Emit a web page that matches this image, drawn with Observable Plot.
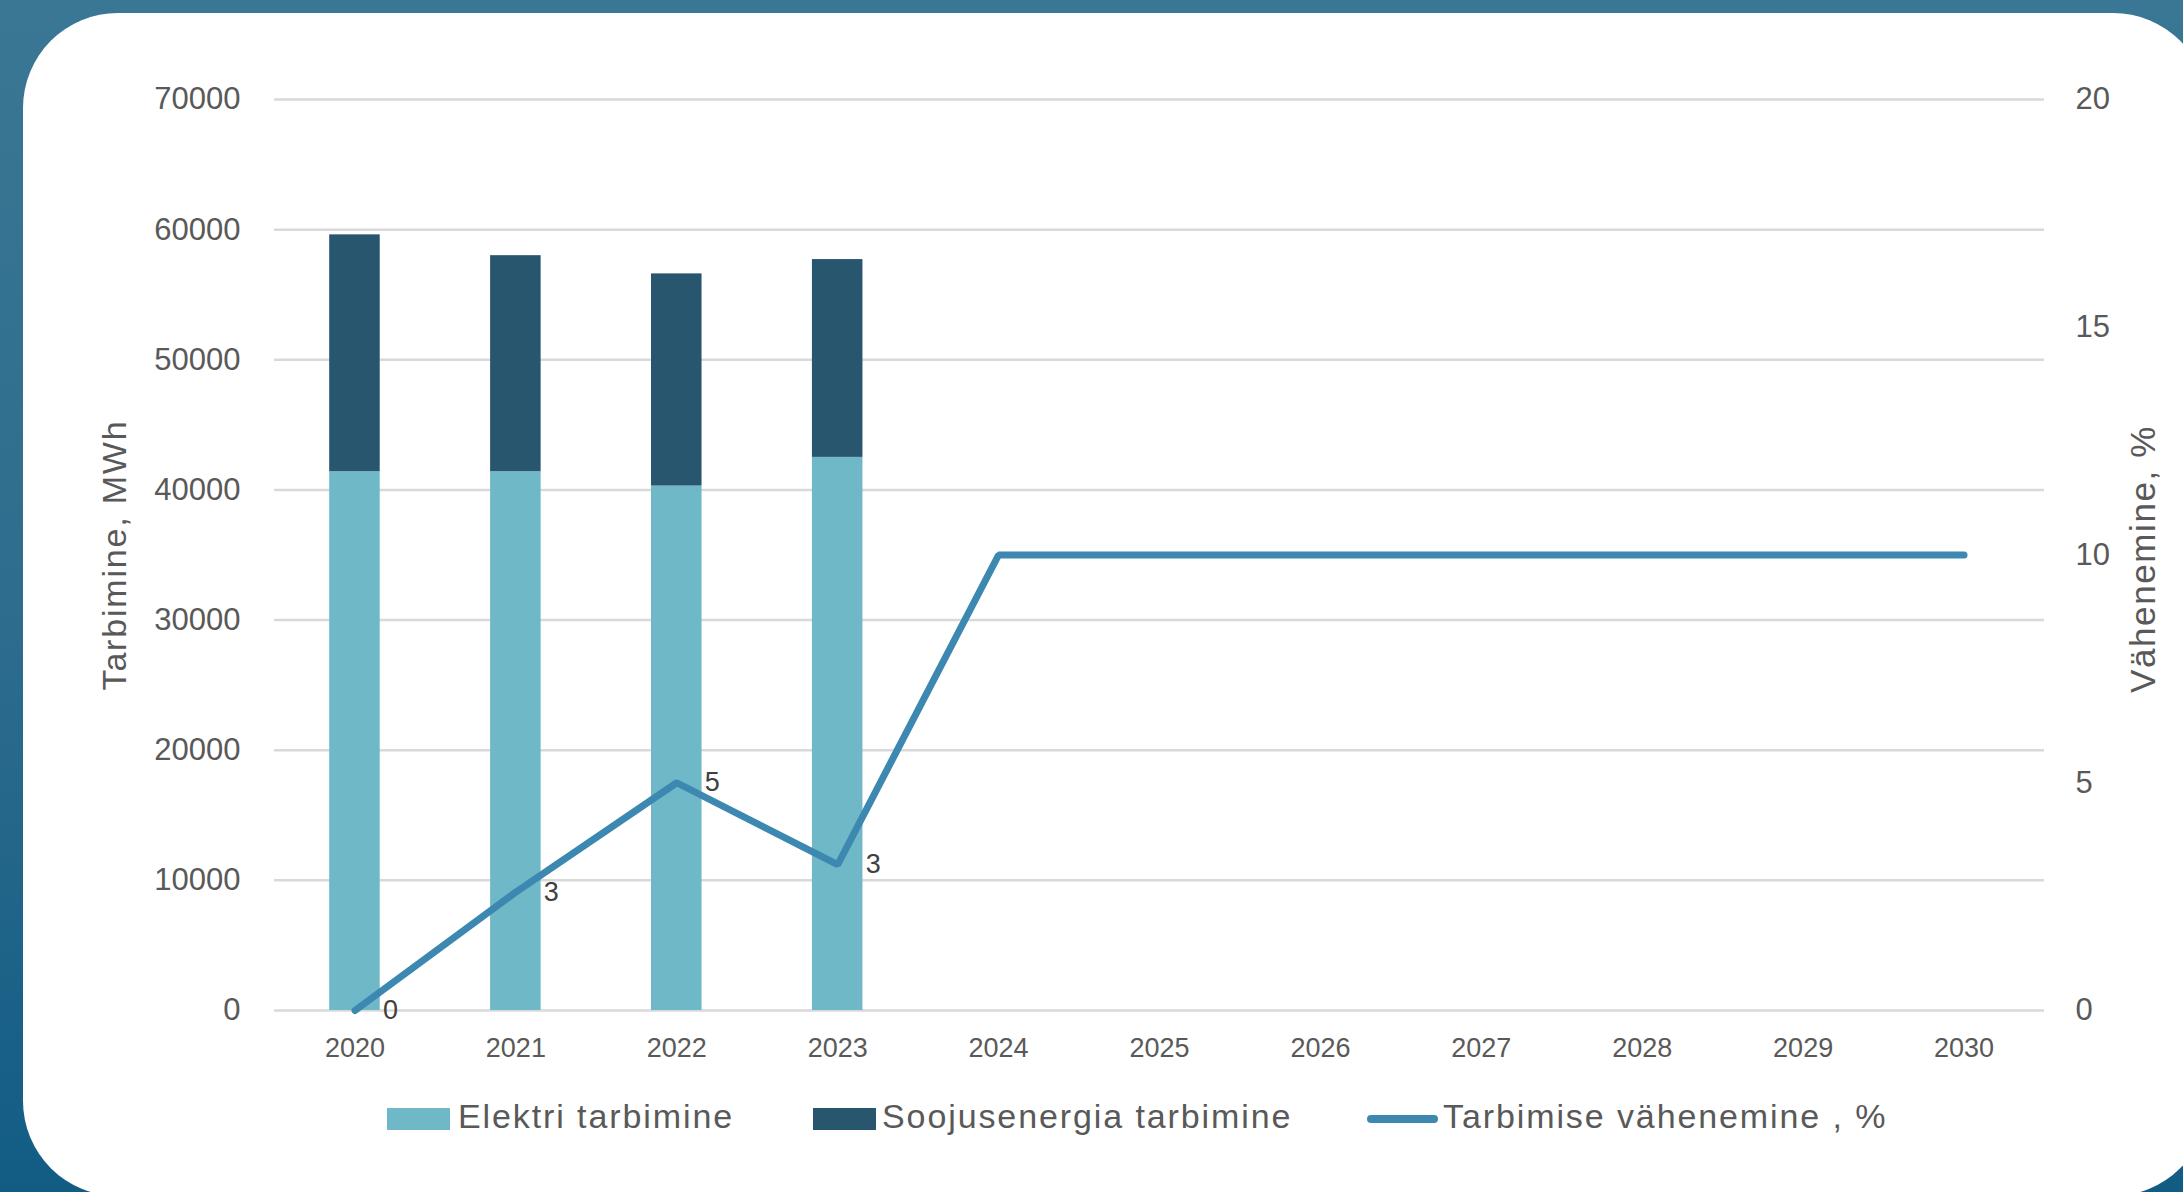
<!DOCTYPE html>
<html>
<head>
<meta charset="utf-8">
<script src="https://cdn.jsdelivr.net/npm/d3@7"></script>
<script src="https://cdn.jsdelivr.net/npm/@observablehq/plot@0.6"></script>
<style>
  html, body { margin: 0; padding: 0; }
  body {
    width: 2183px; height: 1192px; overflow: hidden; position: relative;
    background: linear-gradient(to bottom, #3a7794 0%, #2f6d8e 50%, #125c84 100%);
    font-family: "Liberation Sans", Arial, sans-serif;
  }
  #card {
    position: absolute; left: 23px; top: 13px; width: 2185px; height: 1183px;
    background: #ffffff; border-radius: 95px;
  }
  #chart { position: absolute; left: 0; top: 0; }
  #legend { position: absolute; left: 0; top: 1080px; width: 2183px; height: 100px; }
  .sw { position: absolute; }
  .lt { position: absolute; font-size: 34px; color: #595959; letter-spacing: 1.9px; line-height: 1; white-space: nowrap; }
</style>
</head>
<body>
<div id="card"></div>
<div id="chart"></div>
<div id="legend"></div>
<script>
// ---- data ----
const years = ["2020","2021","2022","2023","2024","2025","2026","2027","2028","2029","2030"];
const barYears = ["2020","2021","2022","2023"];
const elektri = [41400, 41400, 40300, 42500];
const soojus = [18200, 16600, 16300, 15200];
const reduction = [0, 2.6, 5, 3.2, 10, 10, 10, 10, 10, 10, 10];
const reductionLabels = ["0", "3", "5", "3"];
const leftTicks = [0, 10000, 20000, 30000, 40000, 50000, 60000, 70000];
const rightTicks = [0, 5, 10, 15, 20];
const seriesNames = ["Elektri tarbimine", "Soojusenergia tarbimine", "Tarbimise vähenemine , %"];
const colors = ["#6fb8c8", "#27566e", "#3d88b1"];

const leftMax = 70000, rightMax = 20;
const k = leftMax / rightMax; // right-axis units -> left-axis units

const barRows = [];
barYears.forEach((y, i) => {
  barRows.push({year: y, series: seriesNames[0], value: elektri[i]});
  barRows.push({year: y, series: seriesNames[1], value: soojus[i]});
});
const lineRows = years.map((y, i) => ({year: y, pct: reduction[i]}));
const labelRows = reductionLabels.map((t, i) => ({year: years[i], pct: reduction[i], label: t}));

const chart = Plot.plot({
  width: 2183,
  height: 1080,
  marginLeft: 274,
  marginRight: 139,
  marginTop: 99,
  marginBottom: 70,
  style: {fontFamily: "'Liberation Sans', Arial, sans-serif", color: "#595959", background: "transparent"},
  x: {type: "band", domain: years, paddingInner: 0.686, paddingOuter: 0.343, round: false},
  y: {domain: [0, leftMax]},
  color: {domain: seriesNames.slice(0, 2), range: colors.slice(0, 2)},
  marks: [
    Plot.ruleY(leftTicks, {stroke: "#d9d9d9", strokeWidth: 2.5}),
    Plot.barY(barRows, Plot.stackY({x: "year", y: "value", fill: "series", inset: 0})),
    Plot.line(lineRows, {x: "year", y: d => d.pct * k, stroke: colors[2], strokeWidth: 7,
      strokeLinecap: "round", strokeLinejoin: "miter"}),
    Plot.text(labelRows, {x: "year", y: d => d.pct * k, text: "label", textAnchor: "start",
      dx: 28, fontSize: 27, fill: "#404040", lineAnchor: "middle"}),
    Plot.axisX({tickSize: 0, tickPadding: 27, fontSize: 27, label: null, fill: "#595959"}),
    Plot.axisY({ticks: leftTicks, tickSize: 0, tickPadding: 34, fontSize: 31, label: null,
      fill: "#595959", tickFormat: d => String(d)}),
    Plot.axisY({anchor: "right", ticks: rightTicks.map(v => v * k), tickSize: 0, tickPadding: 31,
      fontSize: 31, label: null, fill: "#595959", tickFormat: d => String(Math.round(d / k))}),
    Plot.text(["Tarbimine, MWh"], {frameAnchor: "left", dx: -159, dy: 0, rotate: -90,
      fontSize: 34, fill: "#595959", textAnchor: "middle", lineAnchor: "middle"}),
    Plot.text(["Vähenemine, %"], {frameAnchor: "right", dx: 99, dy: 4, rotate: -90,
      fontSize: 35, fill: "#595959", textAnchor: "middle", lineAnchor: "middle"})
  ]
});
document.getElementById("chart").appendChild(chart);
chart.querySelectorAll("text").forEach(t => {
  if (t.textContent === "Tarbimine, MWh") t.setAttribute("letter-spacing", "1.8");
  if (t.textContent === "Vähenemine, %") t.setAttribute("letter-spacing", "1.6");
});

// ---- legend (HTML, below the SVG) ----
const legend = document.getElementById("legend");
const top0 = 1080;
function add(el) { legend.appendChild(el); return el; }
const sw1 = add(document.createElement("div"));
sw1.className = "sw";
Object.assign(sw1.style, {left: "387px", top: (1108 - top0) + "px", width: "63px", height: "22px", background: colors[0]});
const t1 = add(document.createElement("div"));
t1.className = "lt"; t1.textContent = seriesNames[0];
Object.assign(t1.style, {left: "458px", top: (1099 - top0) + "px"});
const sw2 = add(document.createElement("div"));
sw2.className = "sw";
Object.assign(sw2.style, {left: "813px", top: (1108 - top0) + "px", width: "63px", height: "22px", background: colors[1]});
const t2 = add(document.createElement("div"));
t2.className = "lt"; t2.textContent = seriesNames[1];
Object.assign(t2.style, {left: "882px", top: (1099 - top0) + "px"});
const sw3 = add(document.createElement("div"));
sw3.className = "sw";
Object.assign(sw3.style, {left: "1367px", top: (1115 - top0) + "px", width: "71px", height: "8px", background: colors[2], borderRadius: "4px"});
const t3 = add(document.createElement("div"));
t3.className = "lt"; t3.textContent = seriesNames[2];
Object.assign(t3.style, {left: "1443px", top: (1099 - top0) + "px"});
</script>
</body>
</html>
